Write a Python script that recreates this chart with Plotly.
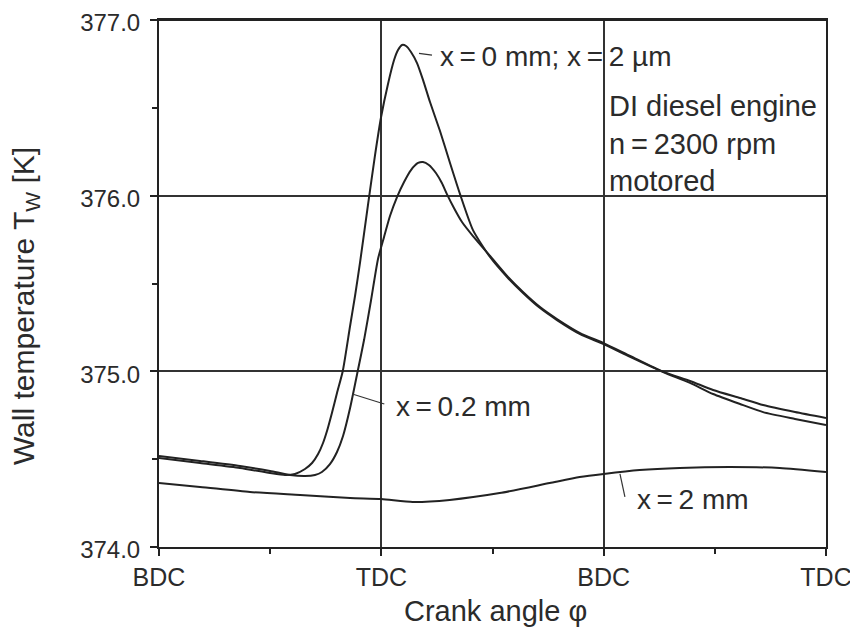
import plotly.graph_objects as go

# ---- data (crank angle in degrees: BDC=-180, TDC=0, BDC=180, TDC=360) ----
tick_vals = [-180, 0, 180, 360]
tick_text = ["BDC", "TDC", "BDC", "TDC"]
y_tick_vals = [374.0, 375.0, 376.0, 377.0]
y_tick_text = ["374.0", "375.0", "376.0", "377.0"]

phi_surface = [-180, -146.8, -114.4, -90.1, -78.0, -69.9, -61.8, -56.1, -51.2, -47.2, -44.0,
               -40.0, -35.9, -31.2, -25.3, -21.3, -17.2, -10.8, -5.1, -0.2, 5.4, 10.3,
               13.5, 16.8, 20.0, 24.0, 28.9, 33.8, 39.4, 47.5, 55.6, 63.7, 74.2, 88.0,
               101.8, 114.7, 128.5, 142.2, 160.9, 179.5, 201.4, 228.1, 249.9, 268.6,
               290.4, 309.1, 334.9, 360]
T_surface = [374.507, 374.478, 374.450, 374.421, 374.410, 374.416, 374.444, 374.478,
             374.529, 374.592, 374.660, 374.763, 374.877, 375.002, 375.258, 375.429,
             375.622, 375.947, 376.231, 376.448, 376.636, 376.772, 376.829, 376.858,
             376.852, 376.818, 376.755, 376.658, 376.533, 376.368, 376.186, 376.009,
             375.804, 375.651, 375.537, 375.446, 375.360, 375.292, 375.212, 375.156,
             375.082, 374.996, 374.934, 374.871, 374.814, 374.768, 374.729, 374.694]

phi_02mm = [-180, -146.8, -114.4, -90.1, -73.9, -61.8, -53.7, -48.1, -41.6, -35.9, -31.0,
            -25.3, -19.1, -14.0, -8.3, -2.7, 2.2, 7.0, 12.7, 18.4, 24.0, 29.7, 33.7, 38.5,
            44.2, 49.0, 53.1, 58.8, 65.3, 74.2, 88.0, 101.8, 114.7, 128.5, 142.2, 160.9,
            179.5, 201.4, 228.1, 249.9, 268.6, 290.4, 309.1, 334.9, 360]
T_02mm = [374.518, 374.490, 374.461, 374.433, 374.410, 374.404, 374.410, 374.427,
          374.472, 374.541, 374.632, 374.791, 375.002, 375.178, 375.406, 375.640,
          375.765, 375.884, 375.992, 376.078, 376.146, 376.186, 376.192, 376.175,
          376.129, 376.072, 376.009, 375.930, 375.850, 375.770, 375.657, 375.543,
          375.452, 375.366, 375.298, 375.218, 375.162, 375.088, 374.998, 374.945,
          374.894, 374.848, 374.808, 374.768, 374.734]

phi_2mm = [-180, -146.8, -106.3, -65.8, -25.3, 0, 25.4, 55.3, 95.8, 136.3, 160.6, 180,
           209.1, 241.5, 282, 322.5, 360]
T_2mm = [374.364, 374.342, 374.313, 374.296, 374.279, 374.273, 374.256, 374.268,
         374.307, 374.364, 374.398, 374.416, 374.438, 374.450, 374.455, 374.450, 374.427]

FONT = "Liberation Sans, Arial, sans-serif"
INK = "#2b2b2b"
LINE = "#222222"
TS = "\u2009"  # thin space

fig = go.Figure()
for xs, ys in [(phi_2mm, T_2mm), (phi_02mm, T_02mm), (phi_surface, T_surface)]:
    fig.add_trace(go.Scatter(x=xs, y=ys, mode="lines",
                             line=dict(color=LINE, width=2, shape="spline", smoothing=0.6),
                             showlegend=False, hoverinfo="skip"))

# leader lines for labels
leaders = [
    ([30.5, 41.0], [376.81, 376.80]),
    ([-23.5, 2.4], [374.871, 374.814]),
    ([193.2, 197.2], [374.416, 374.285]),
]
for lx, ly in leaders:
    fig.add_trace(go.Scatter(x=lx, y=ly, mode="lines", line=dict(color="#333333", width=1.2),
                             showlegend=False, hoverinfo="skip"))

annotations = [
    dict(x=46, y=376.795, text=f"x{TS}={TS}0 mm; x{TS}={TS}2 µm"),
    dict(x=10.5, y=374.797, text=f"x{TS}={TS}0.2 mm"),
    dict(x=205, y=374.268, text=f"x{TS}={TS}2 mm"),
]
for a in annotations:
    fig.add_annotation(x=a["x"], y=a["y"], text=a["text"], showarrow=False,
                       xanchor="left", yanchor="middle",
                       font=dict(family=FONT, size=28, color=INK))
fig.add_annotation(x=183.0, y=376.615, text=f"DI diesel engine<br>n{TS}={TS}2300 rpm<br>motored",
                   showarrow=False, xanchor="left", yanchor="top", align="left",
                   font=dict(family=FONT, size=29, color=INK))

# axis titles
fig.add_annotation(xref="paper", yref="paper", x=0.504, y=-0.122, text="Crank angle φ",
                   showarrow=False, xanchor="center", yanchor="middle",
                   font=dict(family=FONT, size=29, color=INK))
fig.add_annotation(xref="paper", yref="paper", x=-0.201, y=0.457,
                   text="Wall temperature T<sub>W</sub> [K]", textangle=-90,
                   showarrow=False, xanchor="center", yanchor="middle",
                   font=dict(family=FONT, size=30, color=INK))

# top edge of the plot box (kept explicit so it always shows)
fig.add_shape(type="line", xref="paper", yref="paper", x0=0, x1=1, y0=1, y1=1,
              line=dict(color=LINE, width=2), layer="above")

# page body has an 8px margin, so the plot box is offset by that amount
fig.update_layout(
    width=858, height=636,
    margin=dict(l=151, r=40, t=12, b=97),
    paper_bgcolor="white", plot_bgcolor="white",
    font=dict(family=FONT, size=25, color=INK),
    xaxis=dict(range=[-180, 360], tickmode="array", tickvals=tick_vals, ticktext=tick_text,
               showgrid=True, gridcolor="#333333", gridwidth=1.5,
               showline=True, mirror=True, linecolor=LINE, linewidth=2,
               ticks="outside", ticklen=7, tickcolor=LINE, tickwidth=1.5,
               ticklabeloverflow="allow",
               minor=dict(tick0=-180, dtick=90, ticks="outside", ticklen=5,
                          tickcolor=LINE, showgrid=False),
               automargin=False, zeroline=False),
    yaxis=dict(range=[374, 377], tickmode="array", tickvals=y_tick_vals, ticktext=y_tick_text,
               showgrid=True, gridcolor="#333333", gridwidth=1.5,
               showline=True, mirror=True, linecolor=LINE, linewidth=2,
               ticks="outside", ticklen=7, tickcolor=LINE, tickwidth=1.5,
               ticklabelstandoff=5, ticklabelshift=3, ticklabeloverflow="allow",
               tickfont=dict(size=24),
               minor=dict(tick0=374, dtick=0.5, ticks="outside", ticklen=5,
                          tickcolor=LINE, showgrid=False),
               automargin=False, zeroline=False),
)

fig.write_html("out.html")
